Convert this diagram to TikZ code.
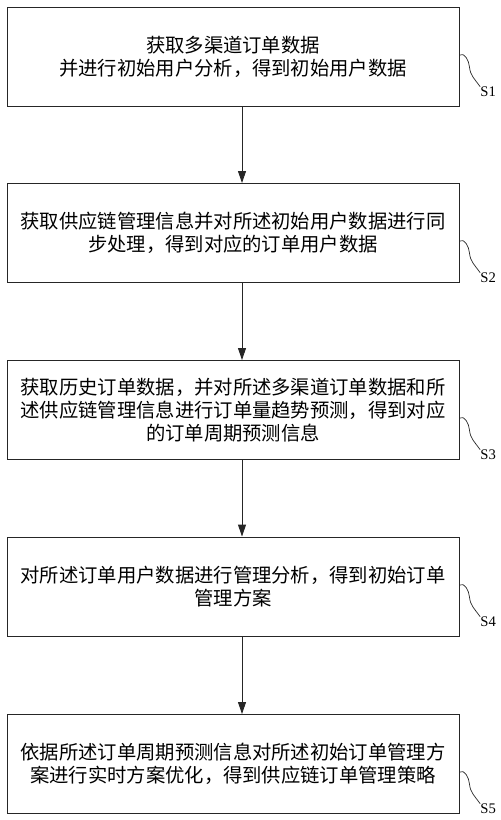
\documentclass[tikz,border=0pt]{standalone}
\usepackage{fontspec}
\setmainfont{Liberation Serif}
\newfontfamily\cjk{Noto Sans CJK SC}
\usetikzlibrary{arrows.meta,positioning}

\tikzset{
  stepbox/.style={draw=black!85, line width=0.8pt, minimum width=13.56cm,
    minimum height=2.97cm, inner sep=0pt, align=center,
    font=\cjk\fontsize{16.5}{19.6}\selectfont},
  flow/.style={line width=0.8pt, draw=black!85, -{Triangle[length=0.36cm,width=0.24cm]}},
  tail/.style={line width=0.6pt, draw=black!85},
  steplabel/.style={anchor=north west, inner sep=0pt, font=\fontsize{12.5}{14}\selectfont}
}

\begin{document}
\begin{tikzpicture}
  \useasboundingbox (0,0) rectangle (15,-24.6); %Picture frame

  \node (b1) [stepbox] at (6.99,-1.695) {获取多渠道订单数据\\并进行初始用户分析，得到初始用户数据}; %Step 1
  \node (b2) [stepbox] at (6.99,-6.99) {获取供应链管理信息并对所述初始用户数据进行同\\步处理，得到对应的订单用户数据}; %Step 2
  \node (b3) [stepbox] at (6.99,-12.3) {获取历史订单数据，并对所述多渠道订单数据和所\\述供应链管理信息进行订单量趋势预测，得到对应\\的订单周期预测信息}; %Step 3
  \node (b4) [stepbox] at (6.99,-17.595) {对所述订单用户数据进行管理分析，得到初始订单\\管理方案}; %Step 4
  \node (b5) [stepbox] at (6.99,-22.92) {依据所述订单周期预测信息对所述初始订单管理方\\案进行实时方案优化，得到供应链订单管理策略}; %Step 5

  \coordinate (ax) at (7.26,0); %Arrow line
  \draw[flow] (b1.south -| ax) -- (b2.north -| ax); %Arrow 1 to 2
  \draw[flow] (b2.south -| ax) -- (b3.north -| ax); %Arrow 2 to 3
  \draw[flow] (b3.south -| ax) -- (b4.north -| ax); %Arrow 3 to 4
  \draw[flow] (b4.south -| ax) -- (b5.north -| ax); %Arrow 4 to 5

  \coordinate (t1) at ([yshift=0.045cm]b1.east); %Tail start S1
  \coordinate (t2) at ([yshift=-0.24cm]b2.east); %Tail start S2
  \coordinate (t3) at ([yshift=-0.24cm]b3.east); %Tail start S3
  \coordinate (t4) at ([yshift=0.045cm]b4.east); %Tail start S4
  \coordinate (t5) at ([yshift=-0.24cm]b5.east); %Tail start S5

  \node (s1) [steplabel] at ([shift={(0.62,-0.95)}]t1) {S1}; %Label S1
  \node (s2) [steplabel] at ([shift={(0.62,-0.95)}]t2) {S2}; %Label S2
  \node (s3) [steplabel] at ([shift={(0.62,-0.95)}]t3) {S3}; %Label S3
  \node (s4) [steplabel] at ([shift={(0.62,-0.95)}]t4) {S4}; %Label S4
  \node (s5) [steplabel] at ([shift={(0.62,-0.95)}]t5) {S5}; %Label S5

  \draw[tail] (t1) to[out=30,in=95] ++(0.3,-0.36) to[out=-85,in=125] (s1.north west); %Tail S1
  \draw[tail] (t2) to[out=30,in=95] ++(0.3,-0.36) to[out=-85,in=125] (s2.north west); %Tail S2
  \draw[tail] (t3) to[out=30,in=95] ++(0.3,-0.36) to[out=-85,in=125] (s3.north west); %Tail S3
  \draw[tail] (t4) to[out=30,in=95] ++(0.3,-0.36) to[out=-85,in=125] (s4.north west); %Tail S4
  \draw[tail] (t5) to[out=30,in=95] ++(0.3,-0.36) to[out=-85,in=125] (s5.north west); %Tail S5
\end{tikzpicture}
\end{document}
